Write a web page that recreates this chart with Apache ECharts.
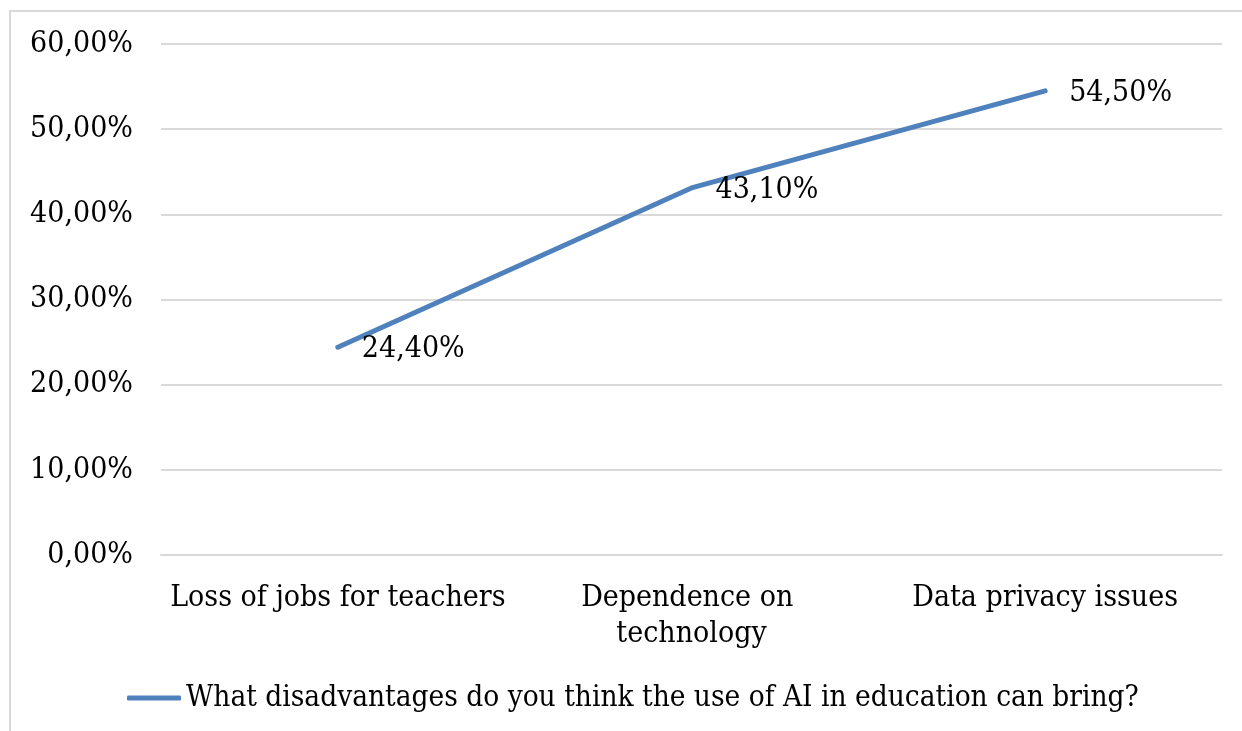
<!DOCTYPE html>
<html><head><meta charset="utf-8">
<script src="https://cdn.jsdelivr.net/npm/echarts@6/dist/echarts.min.js"></script>
<style>html,body{margin:0;padding:0;background:#fff}#c{width:1242px;height:731px}</style>
</head><body><div id="c"></div>
<script>
const categories = ['Loss of jobs for teachers', 'Dependence on technology', 'Data privacy issues'];
const values = [24.4, 43.1, 54.5];
const seriesName = 'What disadvantages do you think the use of AI in education can bring?';
const yTicks = [0, 10, 20, 30, 40, 50, 60];

const FONT = '"DejaVu Serif Condensed", "Liberation Serif", serif';
const FS = 30;
const fmt = v => Number(v).toFixed(2).replace('.', ',') + '%';
const chart = echarts.init(document.getElementById('c'));
chart.setOption({
  animation: false,
  textStyle: { fontFamily: FONT },
  graphic: [{ type: 'rect', shape: { x: 10, y: 11, width: 1300, height: 800 }, style: { fill: 'none', stroke: '#d9d9d9', lineWidth: 2 }, silent: true }],
  grid: { left: 161, right: 20, top: 44, bottom: 176, containLabel: false },
  legend: {
    bottom: 13, left: 122, itemWidth: 54, itemHeight: 5, itemGap: 10,
    icon: 'roundRect',
    textStyle: { fontFamily: FONT, fontSize: 29.5, color: '#000' },
    data: [seriesName]
  },
  xAxis: {
    type: 'category', data: categories, boundaryGap: true,
    axisLine: { lineStyle: { color: '#d9d9d9', width: 2 } }, axisTick: { show: false },
    axisLabel: { fontFamily: FONT, fontSize: FS, color: '#000', margin: 25, interval: 0, width: 340, overflow: 'break', lineHeight: 36 }
  },
  yAxis: {
    type: 'value', min: yTicks[0], max: yTicks[yTicks.length - 1], interval: 10,
    axisLine: { show: false }, axisTick: { show: false },
    splitLine: { lineStyle: { color: '#d9d9d9', width: 2 } },
    axisLabel: { fontFamily: FONT, fontSize: FS, color: '#000', margin: 28, formatter: fmt }
  },
  series: [{
    name: seriesName, type: 'line', data: values, symbol: 'circle', symbolSize: 0, showSymbol: true,
    lineStyle: { color: '#4f81bd', width: 5, cap: 'round' },
    itemStyle: { color: '#4f81bd' },
    label: { show: true, position: 'right', distance: 24, offset: [0, 2], fontFamily: FONT, fontSize: FS, color: '#000', formatter: p => fmt(p.value) }
  }]
});
</script></body></html>
